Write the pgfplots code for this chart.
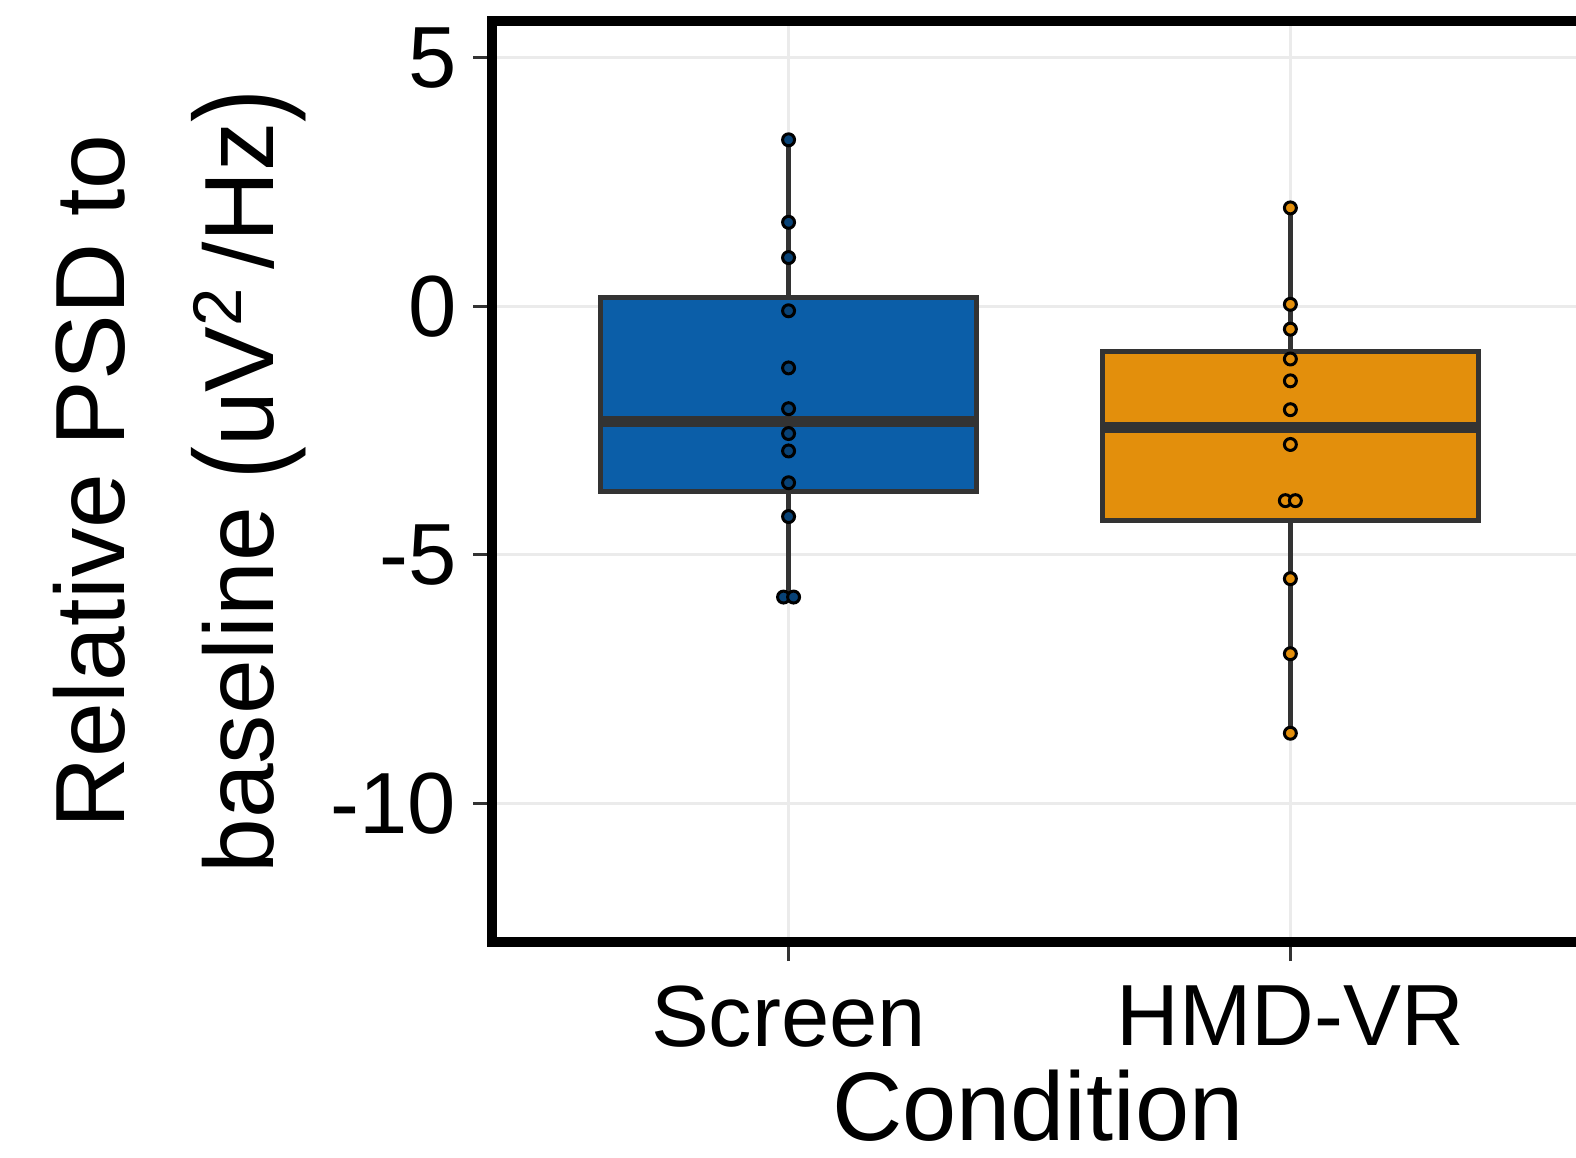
\documentclass[border=0pt]{standalone}
\usepackage{fontspec}
\setmainfont{Liberation Sans}
\usepackage{graphicx}
\usepackage{pgfplots}
\pgfplotsset{compat=1.18}
\usepgfplotslibrary{statistics}
\definecolor{scrblue}{RGB}{11,94,168}
\definecolor{vrorange}{RGB}{227,143,12}
\definecolor{boxline}{RGB}{51,51,51}
\definecolor{gridgray}{RGB}{235,235,235}
\newcommand\tickfont{\fontsize{24.7}{28}\selectfont}
\newcommand\xlabfont{\fontsize{27.7}{32}\selectfont}
\newcommand\ylabfont{\fontsize{28}{42.5}\selectfont}
\newcommand\bigpar[1]{\raisebox{-0.07em}{\scalebox{1}[1.25]{#1}}}

\begin{document}
\begin{tikzpicture}
\begin{axis}[
  at={(0,0)}, anchor=south west,
  scale only axis,
  width=11.04cm, height=9.21cm,
  xmin=0.41, xmax=2.61,
  ymin=-12.79, ymax=5.74,
  xtick={1,2}, xticklabels={Screen, HMD-VR},
  ytick={-10,-5,0,5}, yticklabels={-10,-5,0,5},
  tick pos=left,
  tick align=outside,
  major tick length=1.9mm,
  tick style={line width=0.3mm, color=boxline},
  grid=major,
  major grid style={line width=0.3mm, color=gridgray},
  axis line style={line width=1.0mm, black},
  ticklabel style={font=\tickfont, inner sep=0pt},
  xticklabel style={anchor=north},
  yticklabel style={anchor=east},
  xticklabel shift=2.4mm,
  yticklabel shift=1.65mm,
  xlabel={Condition},
  xlabel style={font=\xlabfont, inner sep=0pt,
    at={(axis description cs:0.494,-0.215)}, anchor=base},
  ylabel={Relative PSD to\\baseline \bigpar{(}uV\textsuperscript{2}\,/Hz\bigpar{)}},
  ylabel style={font=\ylabfont, align=center, inner sep=0pt,
    at={(axis description cs:-0.399,0.5)}, anchor=north},
  boxplot/draw direction=y,
  boxplot/box extend=0.75,
  boxplot/whisker extend=0,
  boxplot/every median/.style={line width=1.1mm},
]
% Screen
\addplot[boxplot prepared={draw position=1, median=-2.31,
    upper quartile=0.18, lower quartile=-3.72,
    upper whisker=3.35, lower whisker=-5.85},
  draw=boxline, line width=0.5mm, fill=scrblue, solid] coordinates {};
\addplot[only marks, mark=*, mark size=1.7pt,
  mark options={fill=scrblue!70!black, draw=black, line width=0.3mm}] coordinates {
  (1,3.35) (1,1.69) (1,0.98) (1,-0.09) (1,-1.24) (1,-2.06)
  (1,-2.56) (1,-2.91) (1,-3.55) (1,-4.23) (0.99,-5.85) (1.01,-5.85)
};
% HMD-VR
\addplot[boxplot prepared={draw position=2, median=-2.43,
    upper quartile=-0.91, lower quartile=-4.30,
    upper whisker=1.98, lower whisker=-8.59},
  draw=boxline, line width=0.5mm, fill=vrorange, solid] coordinates {};
\addplot[only marks, mark=*, mark size=1.7pt,
  mark options={fill=vrorange, draw=black, line width=0.3mm}] coordinates {
  (2,1.98) (2,0.04) (2,-0.46) (2,-1.06) (2,-1.50) (2,-2.08)
  (2,-2.78) (1.99,-3.91) (2.01,-3.91) (2,-5.48) (2,-6.99) (2,-8.59)
};
\end{axis}
\pgfresetboundingbox
\path[use as bounding box] (-4.925,-2.15) rectangle (10.835,9.42);
\end{tikzpicture}
\end{document}
